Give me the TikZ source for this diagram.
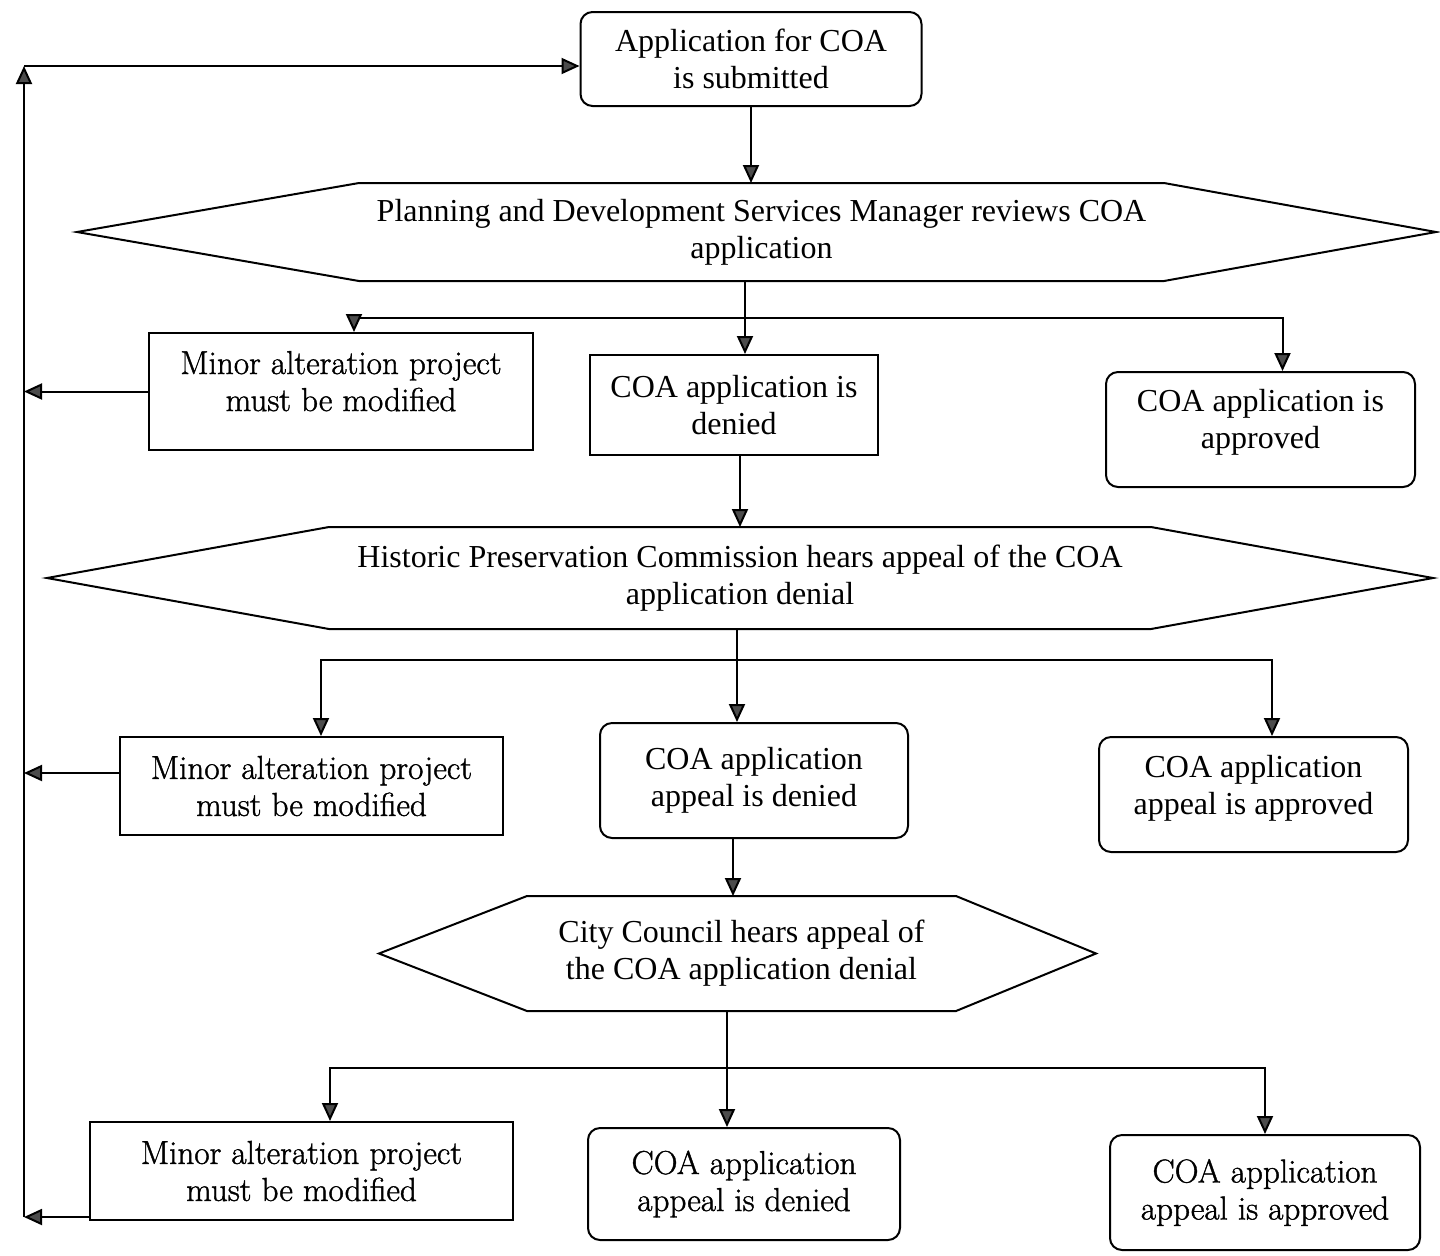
\documentclass[tikz,border=0pt]{standalone}
\usepackage{fontspec}
\newfontfamily\tnr{Liberation Serif}
\newfontfamily\lmh[FakeBold=1.2]{Latin Modern Roman}
\usetikzlibrary{arrows.meta,calc}
\begin{document}
\begin{tikzpicture}[x=0.5pt,y=-0.5pt,
  base/.style={line width=1pt, align=center, inner sep=0pt},
  rbox/.style={base, draw, rounded corners=6pt},
  sbox/.style={base, draw},
  tnrf/.style={font=\tnr\fontsize{16}{18.5}\selectfont},
  lmf/.style={font=\lmh\fontsize{16.6}{18.5}\selectfont},
  hexn/.style={base, draw=none},
  hexline/.style={line width=1pt, line join=miter},
  arr/.style={line width=1pt, -{Triangle[length=9pt,width=8pt,fill=black!70]}},
  plain/.style={line width=1pt}
]
\useasboundingbox (0,0) rectangle (1440,1255);

% top node
\node[rbox, tnrf, minimum width=170.5pt, minimum height=47pt] (top) at (751,59)
  {Application for COA\\is submitted};

% hexagon 1
\node[hexn, tnrf, minimum width=401.5pt, minimum height=48pt] (h1) at (761.5,232)
  {Planning and Development Services Manager reviews COA\\application};
\draw[hexline] (h1.north west) -- (h1.north east) -- ($(h1.east)+(272,0)$)
  -- (h1.south east) -- (h1.south west) -- ($(h1.west)+(-282,0)$) -- cycle;

% row 1
\node[sbox, lmf, minimum width=192pt, minimum height=58.5pt] (m1) at (341,391.5)
  {Minor alteration project\\must be modified\\[-8pt]\mbox{}};
\node[sbox, tnrf, minimum width=144pt, minimum height=50pt] (d1) at (734,405)
  {COA application is\\denied};
\node[rbox, tnrf, minimum width=154.5pt, minimum height=57.5pt] (a1) at (1260.5,429.5)
  {COA application is\\approved\\[-8pt]\mbox{}};

% hexagon 2
\node[hexn, tnrf, minimum width=410pt, minimum height=50pt] (h2) at (740,578)
  {Historic Preservation Commission hears appeal of the COA\\application denial};
\draw[hexline] (h2.north west) -- (h2.north east) -- ($(h2.east)+(282,0)$)
  -- (h2.south east) -- (h2.south west) -- ($(h2.west)+(-282,0)$) -- cycle;

% row 2
\node[sbox, lmf, minimum width=191.5pt, minimum height=49pt] (m2) at (311.5,786)
  {Minor alteration project\\must be modified};
\node[rbox, tnrf, minimum width=154pt, minimum height=57.5pt] (d2) at (754,780.5)
  {COA application\\appeal is denied};
\node[rbox, tnrf, minimum width=154.5pt, minimum height=57.5pt] (a2) at (1253.5,794.5)
  {COA application\\appeal is approved\\[-9pt]\mbox{}};

% hexagon 3
\node[hexn, tnrf, minimum width=213.5pt, minimum height=56.5pt] (h3) at (741.5,953.5)
  {City Council hears appeal of\\the COA application denial};
\draw[hexline] (h3.north west) -- (h3.north east) -- ($(h3.east)+(140,0)$)
  -- (h3.south east) -- (h3.south west) -- ($(h3.west)+(-148,0)$) -- cycle;

% row 3
\node[sbox, lmf, minimum width=211.5pt, minimum height=49pt] (m3) at (301.5,1171)
  {Minor alteration project\\must be modified};
\node[rbox, lmf, minimum width=156pt, minimum height=56pt] (d3) at (744,1184)
  {COA application\\appeal is denied};
\node[rbox, lmf, minimum width=155pt, minimum height=57.5pt] (a3) at (1265,1192.5)
  {COA application\\appeal is approved};

% main flow
\draw[arr] (top.south) -- (top.south |- h1.north);

\coordinate (t1) at (745,318);
\draw[arr] (h1.south -| t1) -- (d1.north -| t1);
\draw[arr] (t1) -| ([xshift=6.5pt]m1.north);
\draw[arr] (t1) -| ([xshift=11pt]a1.north);
\draw[arr] ([xshift=3pt]d1.south) -- ([xshift=3pt]d1.south |- h2.north);

\coordinate (t2) at (737,660);
\draw[arr] (h2.south -| t2) -- (d2.north -| t2);
\draw[arr] (t2) -| ([xshift=4.75pt]m2.north);
\draw[arr] (t2) -| ([xshift=9.25pt]a2.north);
\draw[arr] ([xshift=-10.5pt]d2.south) -- ([xshift=-10.5pt]d2.south |- h3.north);

\coordinate (t3) at (727,1068);
\draw[arr] (h3.south -| t3) -- (d3.north -| t3);
\draw[arr] (t3) -| ([xshift=14.25pt]m3.north);
\draw[arr] (t3) -| (a3.north);

% feedback loop
\coordinate (Ltop) at (24,66);
\coordinate (m3o) at ([yshift=2pt]m3.south west);
\coordinate (Lbot) at (m3o -| Ltop);
\draw[arr] (m1.west) -- (m1.west -| Ltop);
\draw[arr] ([yshift=6.5pt]m2.west) -- ([yshift=6.5pt]m2.west -| Ltop);
\draw[arr] (m3o) -- (Lbot);
\draw[arr] (Lbot) -- (Ltop);
\draw[arr] (Ltop) -- (Ltop -| top.west);
\end{tikzpicture}
\end{document}
